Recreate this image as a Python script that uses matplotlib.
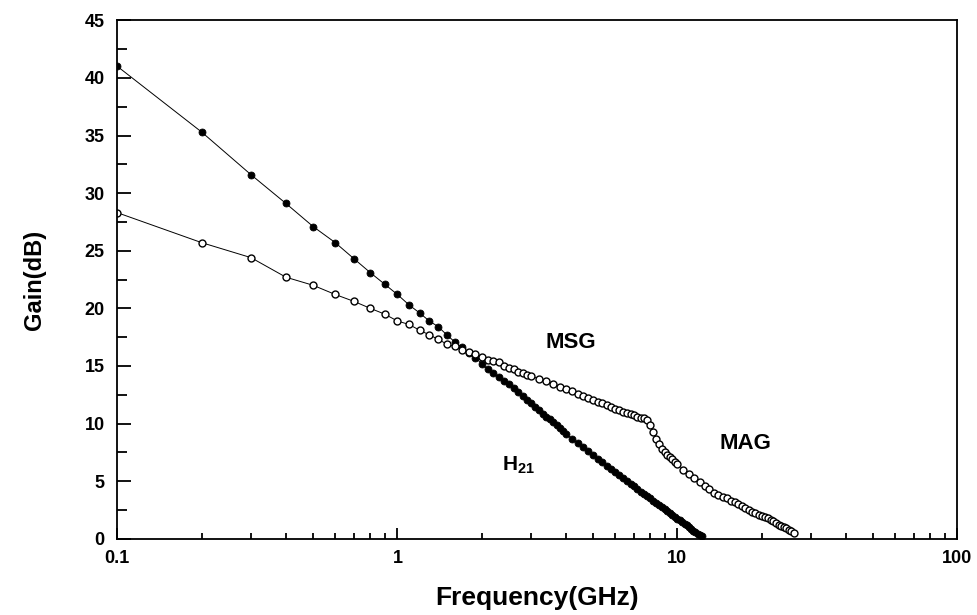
import matplotlib.pyplot as plt
from matplotlib.ticker import FixedLocator, NullFormatter

plt.rcParams.update({
    "font.family": ["Liberation Sans", "DejaVu Sans"],
    "font.weight": "bold",
    "mathtext.fontset": "custom",
    "mathtext.rm": "Liberation Sans",
    "mathtext.bf": "Liberation Sans:bold",
})

# H21 (filled circles)
h21_freq = [0.1, 0.2, 0.3, 0.4, 0.5, 0.6, 0.7, 0.8, 0.9, 1.0,
            1.1, 1.2, 1.3, 1.4, 1.5, 1.6, 1.7, 1.8, 1.9, 2.0,
            2.1, 2.2, 2.3, 2.4, 2.5, 2.6, 2.7, 2.8, 2.9, 3.0,
            3.1, 3.2, 3.3, 3.4, 3.5, 3.6, 3.7, 3.8, 3.9, 4.0,
            4.2, 4.4, 4.6, 4.8, 5.0, 5.2, 5.4, 5.6, 5.8, 6.0,
            6.2, 6.4, 6.6, 6.8, 7.0, 7.2, 7.4, 7.6, 7.8, 8.0,
            8.2, 8.4, 8.6, 8.8, 9.0, 9.2, 9.4, 9.6, 9.8, 10.0,
            10.2, 10.4, 10.6, 10.8, 11.0, 11.2, 11.4, 11.6, 11.8, 12.0, 12.2]
h21_gain = [41.0, 35.3, 31.6, 29.1, 27.1, 25.7, 24.3, 23.1, 22.1, 21.2,
            20.3, 19.6, 18.9, 18.4, 17.7, 17.1, 16.6, 16.1, 15.7, 15.2,
            14.7, 14.35, 14.0, 13.7, 13.4, 13.05, 12.7, 12.35, 12.05, 11.75,
            11.45, 11.15, 10.85, 10.6, 10.35, 10.1, 9.85, 9.6, 9.35, 9.1,
            8.7, 8.3, 7.95, 7.6, 7.25, 6.95, 6.65, 6.35, 6.05, 5.8,
            5.5, 5.25, 5.0, 4.75, 4.55, 4.3, 4.1, 3.9, 3.7, 3.5,
            3.3, 3.1, 2.9, 2.75, 2.55, 2.4, 2.25, 2.05, 1.9, 1.75,
            1.6, 1.45, 1.3, 1.15, 1.0, 0.85, 0.7, 0.6, 0.45, 0.3, 0.2]

# MSG / MAG (open circles)
msg_freq = [0.1, 0.2, 0.3, 0.4, 0.5, 0.6, 0.7, 0.8, 0.9, 1.0,
            1.1, 1.2, 1.3, 1.4, 1.5, 1.6, 1.7, 1.8, 1.9, 2.0,
            2.1, 2.2, 2.3, 2.4, 2.5, 2.6, 2.7, 2.8, 2.9, 3.0,
            3.2, 3.4, 3.6, 3.8, 4.0, 4.2, 4.4, 4.6, 4.8, 5.0,
            5.2, 5.4, 5.6, 5.8, 6.0, 6.2, 6.4, 6.6, 6.8, 7.0,
            7.2, 7.4, 7.6, 7.8, 8.0, 8.2, 8.4, 8.6, 8.8, 9.0,
            9.2, 9.4, 9.6, 9.8, 10.0, 10.5, 11.0, 11.5, 12.0, 12.5,
            13.0, 13.5, 14.0, 14.5, 15.0, 15.5, 16.0, 16.5, 17.0, 17.5,
            18.0, 18.5, 19.0, 19.5, 20.0, 20.5, 21.0, 21.5, 22.0, 22.5,
            23.0, 23.5, 24.0, 24.5, 25.0, 25.5, 26.0]
msg_gain = [28.3, 25.7, 24.4, 22.7, 22.0, 21.2, 20.6, 20.0, 19.5, 18.9,
            18.6, 18.1, 17.7, 17.3, 16.9, 16.7, 16.4, 16.2, 16.0, 15.8,
            15.5, 15.4, 15.3, 15.0, 14.8, 14.7, 14.5, 14.35, 14.2, 14.1,
            13.9, 13.7, 13.45, 13.2, 13.0, 12.8, 12.6, 12.4, 12.2, 12.05,
            11.9, 11.75, 11.6, 11.45, 11.3, 11.15, 11.0, 10.9, 10.8, 10.7,
            10.6, 10.5, 10.45, 10.3, 9.9, 9.3, 8.7, 8.2, 7.8, 7.5,
            7.3, 7.1, 6.9, 6.7, 6.5, 6.0, 5.6, 5.3, 4.9, 4.6,
            4.3, 4.0, 3.8, 3.6, 3.5, 3.3, 3.2, 3.0, 2.8, 2.65,
            2.5, 2.35, 2.2, 2.1, 2.0, 1.9, 1.8, 1.65, 1.5, 1.35,
            1.2, 1.1, 1.0, 0.9, 0.8, 0.65, 0.5]

fig = plt.figure(figsize=(9.78, 6.15), dpi=100)
ax = fig.add_axes([0.12, 0.124, 0.859, 0.843])

ax.plot(h21_freq, h21_gain, color="black", lw=0.7, marker="o", ms=5.0,
        mfc="black", mec="black", mew=0.6)
ax.plot(msg_freq, msg_gain, color="black", lw=0.7, marker="o", ms=5.0,
        mfc="white", mec="black", mew=1.0)

ax.set_xscale("log")
ax.set_xlim(0.1, 100)
ax.set_ylim(0, 45)
ax.set_xticks([0.1, 1, 10, 100])
ax.set_xticklabels(["0.1", "1", "10", "100"])
ax.xaxis.set_minor_locator(FixedLocator(
    [m * d for d in (0.1, 1, 10) for m in range(2, 10)]))
ax.xaxis.set_minor_formatter(NullFormatter())
ax.set_yticks(range(0, 46, 5))
ax.yaxis.set_minor_locator(FixedLocator([2.5 + 5 * i for i in range(9)]))

ax.tick_params(which="both", direction="in", top=False, right=False, width=1.3)
ax.tick_params(axis="y", which="major", length=10, pad=9, labelsize=13)
ax.tick_params(axis="y", which="minor", length=7)
ax.tick_params(axis="x", which="major", length=8, pad=8, labelsize=13)
ax.tick_params(axis="x", which="minor", length=4)
for s in ax.spines.values():
    s.set_linewidth(1.3)

ax.set_xlabel("Frequency(GHz)", fontsize=19, fontweight="bold", labelpad=14)
ax.set_ylabel("Gain(dB)", fontsize=17, fontweight="bold", labelpad=28)

ax.text(4.15, 17.0, "MSG", fontsize=16, fontweight="bold", ha="center", va="center")
ax.text(17.5, 8.3, "MAG", fontsize=16, fontweight="bold", ha="center", va="center")
ax.text(2.7, 6.4, r"$\mathbf{H_{21}}$", fontsize=15, ha="center", va="center")

fig.savefig("out.png", dpi=100)
